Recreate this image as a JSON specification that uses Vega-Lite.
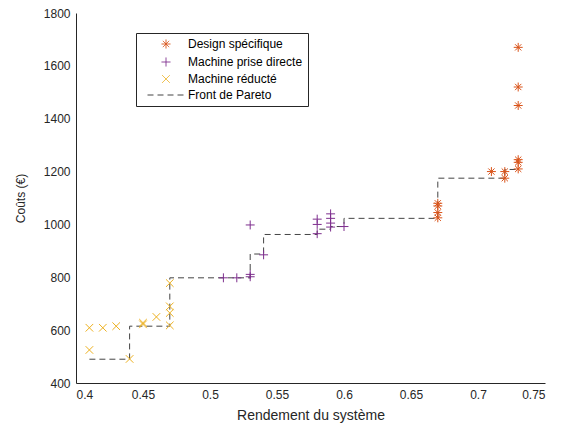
{
  "$schema": "https://vega.github.io/schema/vega-lite/v6.json",
  "width": 469,
  "height": 370,
  "autosize": {"type": "none"},
  "padding": {"left": 76, "top": 13, "right": 22, "bottom": 45},
  "background": "white",
  "config": {
    "font": "Liberation Sans",
    "view": {"stroke": null},
    "axis": {
      "grid": false,
      "domainColor": "#262626",
      "tickColor": "#262626",
      "labelColor": "#262626",
      "titleColor": "#262626",
      "labelFont": "Liberation Sans",
      "titleFont": "Liberation Sans",
      "labelFontSize": 12,
      "titleFontWeight": "normal",
      "tickSize": 0,
      "domainWidth": 1,
      "tickWidth": 1
    }
  },
  "datasets": {
    "points": [
      {"serie": "Design spécifique", "rendement": 0.67, "cout": 1025},
      {"serie": "Design spécifique", "rendement": 0.67, "cout": 1045},
      {"serie": "Design spécifique", "rendement": 0.67, "cout": 1070},
      {"serie": "Design spécifique", "rendement": 0.67, "cout": 1080},
      {"serie": "Design spécifique", "rendement": 0.71, "cout": 1200},
      {"serie": "Design spécifique", "rendement": 0.72, "cout": 1175},
      {"serie": "Design spécifique", "rendement": 0.72, "cout": 1200},
      {"serie": "Design spécifique", "rendement": 0.73, "cout": 1210},
      {"serie": "Design spécifique", "rendement": 0.73, "cout": 1235},
      {"serie": "Design spécifique", "rendement": 0.73, "cout": 1245},
      {"serie": "Design spécifique", "rendement": 0.73, "cout": 1450},
      {"serie": "Design spécifique", "rendement": 0.73, "cout": 1520},
      {"serie": "Design spécifique", "rendement": 0.73, "cout": 1670},
      {"serie": "Machine prise directe", "rendement": 0.51, "cout": 798},
      {"serie": "Machine prise directe", "rendement": 0.52, "cout": 798},
      {"serie": "Machine prise directe", "rendement": 0.53, "cout": 802},
      {"serie": "Machine prise directe", "rendement": 0.53, "cout": 811},
      {"serie": "Machine prise directe", "rendement": 0.53, "cout": 998},
      {"serie": "Machine prise directe", "rendement": 0.54, "cout": 885},
      {"serie": "Machine prise directe", "rendement": 0.58, "cout": 965},
      {"serie": "Machine prise directe", "rendement": 0.58, "cout": 1000},
      {"serie": "Machine prise directe", "rendement": 0.58, "cout": 1020},
      {"serie": "Machine prise directe", "rendement": 0.59, "cout": 990},
      {"serie": "Machine prise directe", "rendement": 0.59, "cout": 1005},
      {"serie": "Machine prise directe", "rendement": 0.59, "cout": 1023},
      {"serie": "Machine prise directe", "rendement": 0.59, "cout": 1040},
      {"serie": "Machine prise directe", "rendement": 0.60, "cout": 992},
      {"serie": "Machine réducté", "rendement": 0.41, "cout": 525},
      {"serie": "Machine réducté", "rendement": 0.41, "cout": 609},
      {"serie": "Machine réducté", "rendement": 0.42, "cout": 609},
      {"serie": "Machine réducté", "rendement": 0.43, "cout": 615},
      {"serie": "Machine réducté", "rendement": 0.44, "cout": 491},
      {"serie": "Machine réducté", "rendement": 0.45, "cout": 622},
      {"serie": "Machine réducté", "rendement": 0.45, "cout": 628},
      {"serie": "Machine réducté", "rendement": 0.46, "cout": 650},
      {"serie": "Machine réducté", "rendement": 0.47, "cout": 618},
      {"serie": "Machine réducté", "rendement": 0.47, "cout": 665},
      {"serie": "Machine réducté", "rendement": 0.47, "cout": 690},
      {"serie": "Machine réducté", "rendement": 0.47, "cout": 778}
    ],
    "front": [
      {"serie": "Front de Pareto", "rendement": 0.41, "cout": 490},
      {"serie": "Front de Pareto", "rendement": 0.44, "cout": 615},
      {"serie": "Front de Pareto", "rendement": 0.47, "cout": 798},
      {"serie": "Front de Pareto", "rendement": 0.53, "cout": 888},
      {"serie": "Front de Pareto", "rendement": 0.54, "cout": 962},
      {"serie": "Front de Pareto", "rendement": 0.58, "cout": 982},
      {"serie": "Front de Pareto", "rendement": 0.59, "cout": 992},
      {"serie": "Front de Pareto", "rendement": 0.60, "cout": 1023},
      {"serie": "Front de Pareto", "rendement": 0.67, "cout": 1175},
      {"serie": "Front de Pareto", "rendement": 0.72, "cout": 1208},
      {"serie": "Front de Pareto", "rendement": 0.73, "cout": 1208}
    ]
  },
  "encoding": {
    "x": {
      "field": "rendement", "type": "quantitative",
      "scale": {"domain": [0.4, 0.75], "nice": false, "zero": false},
      "axis": {
        "title": "Rendement du système", "titleFontSize": 14,
        "values": [0.4, 0.45, 0.5, 0.55, 0.6, 0.65, 0.7, 0.75], "format": ".2~f",
        "labelPadding": 6, "titlePadding": 8,
        "encode": {"ticks": {"update": {"y2": {"value": -5}}}}
      }
    },
    "y": {
      "field": "cout", "type": "quantitative",
      "scale": {"domain": [400, 1800], "nice": false, "zero": false},
      "axis": {
        "title": "Coûts (€)", "titleFontSize": 12,
        "values": [400, 600, 800, 1000, 1200, 1400, 1600, 1800], "format": "d",
        "labelPadding": 6, "titlePadding": 16,
        "encode": {"ticks": {"update": {"x2": {"value": 5}}}}
      }
    },
    "color": {
      "field": "serie", "type": "nominal",
      "scale": {
        "domain": ["Design spécifique", "Machine prise directe", "Machine réducté", "Front de Pareto"],
        "range": ["#D95319", "#7E2F8E", "#EDB120", "#444444"]
      },
      "legend": {
        "title": null,
        "orient": "none",
        "legendX": 60,
        "legendY": 20,
        "strokeColor": "#262626",
        "fillColor": "white",
        "padding": 5,
        "labelFont": "Liberation Sans",
        "labelFontSize": 12,
        "labelColor": "#000000",
        "rowPadding": 4,
        "symbolOffset": 19,
        "labelOffset": 16,
        "symbolStrokeWidth": 1,
        "encode": {
          "symbols": {
            "update": {
              "size": {"signal": "datum.label === 'Front de Pareto' ? 1369 : 80"},
              "strokeDash": {"signal": "datum.label === 'Front de Pareto' ? [6, 4] : [1, 0]"},
              "stroke": {"scale": "color", "field": "value"},
              "shape": {"scale": "shape", "field": "value"},
              "fill": {"value": "transparent"},
              "opacity": {"value": 1}
            }
          }
        }
      }
    }
  },
  "layer": [
    {
      "data": {"name": "front"},
      "mark": {"type": "line", "interpolate": "step-after", "strokeDash": [6, 4], "strokeWidth": 1},
      "encoding": {}
    },
    {
      "data": {"name": "points"},
      "mark": {"type": "point", "filled": false, "strokeWidth": 1, "size": 80, "opacity": 1},
      "encoding": {
        "shape": {
          "field": "serie", "type": "nominal",
          "scale": {
            "domain": ["Design spécifique", "Machine prise directe", "Machine réducté", "Front de Pareto"],
            "range": [
              "M-1,0L1,0M0,-1L0,1M-0.7,-0.7L0.7,0.7M-0.7,0.7L0.7,-0.7",
              "M-1,0L1,0M0,-1L0,1",
              "M-0.85,-0.85L0.85,0.85M-0.85,0.85L0.85,-0.85",
              "stroke"
            ]
          },
          "legend": null
        }
      }
    }
  ]
}
